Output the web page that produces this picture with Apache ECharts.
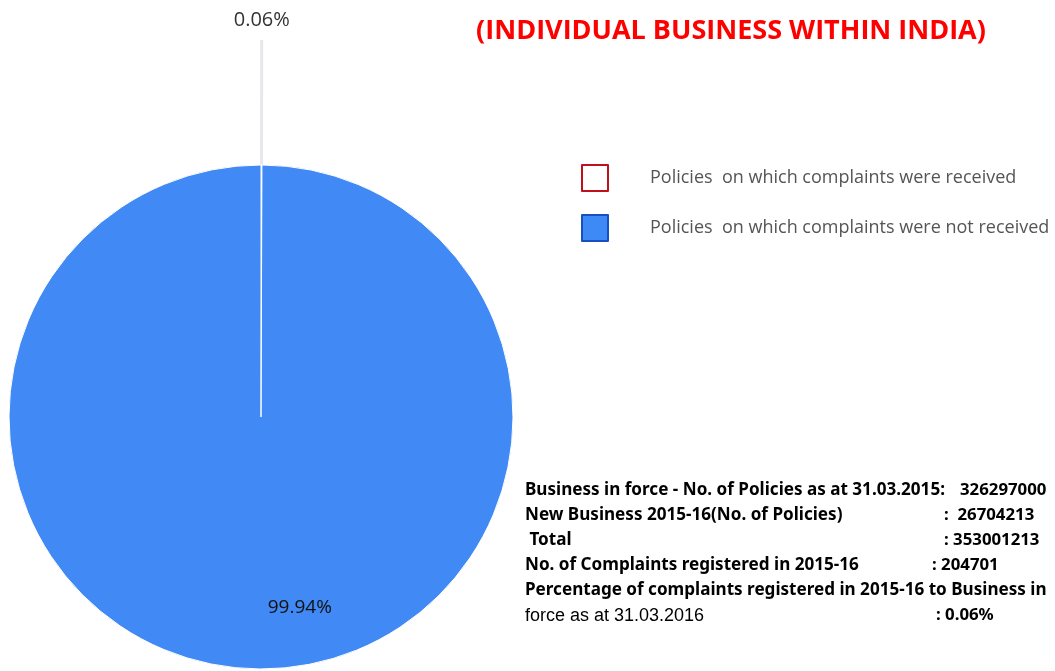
<!DOCTYPE html>
<html>
<head>
<meta charset="utf-8">
<script src="https://cdn.jsdelivr.net/npm/echarts@6/dist/echarts.min.js"></script>
<style>
  html, body { margin: 0; padding: 0; background: #fff; }
  #chart { width: 1055px; height: 671px; }
</style>
</head>
<body>
<div id="chart"></div>
<script>
  // complaints vs business in force
  const categories = ['Policies  on which complaints were received', 'Policies  on which complaints were not received'];
  const shares = [0.06, 99.94];
  const labels = ['0.06%', '99.94%'];
  const titleLines = ['COMPLAINTS AS % TO BUSINESS IN FORCE', '(INDIVIDUAL BUSINESS WITHIN INDIA)'];
  const noteLeft = [
    'Business in force - No. of Policies as at 31.03.2015:',
    'New Business 2015-16(No. of Policies)',
    ' Total',
    'No. of Complaints registered in 2015-16',
    'Percentage of complaints registered in 2015-16 to Business in',
    'force as at 31.03.2016',
  ];
  const noteRight = ['326297000', ':  26704213', ': 353001213', ': 204701', '', ': 0.06%'];
  const noteRightX = [960, 944, 944, 932, 0, 936];

  const chart = echarts.init(document.getElementById('chart'));

  const noteText = [];
  noteLeft.forEach((t, i) => {
    noteText.push({
      type: 'text',
      left: 525,
      top: 482 + i * 25,
      style: {
        text: t,
        fill: '#000',
        font: (i === 5 ? 'normal 18px "Liberation Sans"' : 'bold 17.1px "Noto Sans"'),
      },
    });
    if (noteRight[i]) {
      noteText.push({
        type: 'text',
        left: noteRightX[i],
        top: 482 + i * 25,
        style: { text: noteRight[i], fill: '#000', font: 'bold 16.8px "Noto Sans"' },
      });
    }
  });

  const option = {
    backgroundColor: '#fff',
    animation: false,
    title: [
      {
        text: titleLines[0],
        left: 726,
        top: -27,
        textAlign: 'center',
        textStyle: { color: '#ff80b0', fontSize: 27, fontWeight: 'bold', fontFamily: 'Open Sans' },
      },
      {
        text: titleLines[1],
        left: 726,
        top: 13,
        textAlign: 'center',
        textStyle: { color: '#ff0000', fontSize: 27, fontWeight: 'bold', fontFamily: 'Open Sans' },
      },
    ],
    legend: {
      orient: 'vertical',
      left: 576,
      top: 159,
      itemWidth: 26,
      itemHeight: 26,
      itemGap: 22,
      icon: 'rect',
      data: [
        { name: categories[0], itemStyle: { color: '#ffffff', borderColor: '#c0101c', borderWidth: 2 } },
        { name: categories[1], itemStyle: { color: '#3d8af7', borderColor: '#1a4fc0', borderWidth: 2 } },
      ],
      textStyle: {
        color: '#555',
        fontSize: 18,
        fontFamily: 'Open Sans',
        padding: [0, 0, 0, 37],
      },
    },
    series: [
      {
        type: 'pie',
        center: [261, 417],
        radius: 252,
        startAngle: 90,
        clockwise: true,
        data: [
          {
            name: categories[0],
            value: shares[0],
            itemStyle: { color: '#ffffff', borderColor: '#ffffff', borderWidth: 1 },
            label: {
              show: true,
              position: 'outside',
              formatter: labels[0],
              color: '#333',
              fontSize: 20,
              fontFamily: 'Open Sans',
              offset: [-33, -20],
            },
            labelLine: {
              show: true,
              length: 125,
              length2: 0,
              lineStyle: { color: '#e6e8ec', width: 3 },
            },
          },
          {
            name: categories[1],
            value: shares[1],
            itemStyle: { color: '#4189f5', borderColor: '#ffffff', borderWidth: 1 },
            label: {
              show: true,
              position: 'inside',
              formatter: labels[1],
              color: '#111',
              fontSize: 19,
              fontFamily: 'Open Sans',
              offset: [39, 62],
            },
            labelLine: { show: false },
          },
        ],
      },
    ],
    graphic: noteText,
  };

  chart.setOption(option);
</script>
</body>
</html>
